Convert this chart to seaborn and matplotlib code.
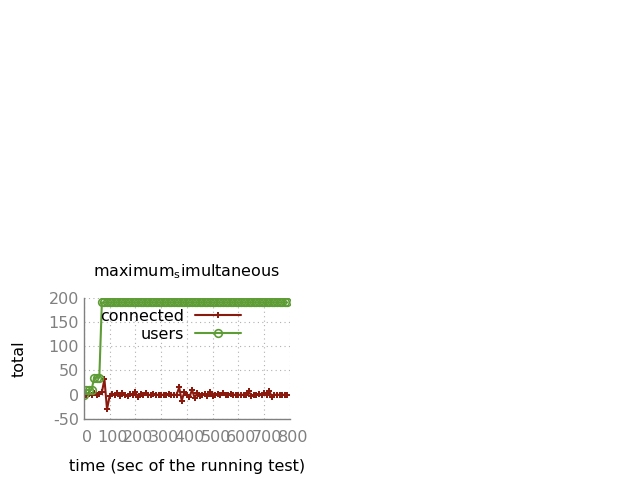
import numpy as np
import pandas as pd
import matplotlib
matplotlib.use("Agg")
import matplotlib.pyplot as plt
import matplotlib.transforms as mtransforms
import seaborn as sns

time = list(range(0, 800, 10))
connected = [0, 0, 2, 0, 3, 0, 2, 5, 32, -30,
             -3, 2, 0, 4, -2, 3, 0, -3, 2, 0,
             5, -4, 2, 0, 3, 0, 0, 2, 0, 0,
             0, 0, 0, 2, 0, 0, 0, 15, -12, 5,
             0, -5, 10, -6, 3, -3, 0, 2, -2, 5,
             -3, 0, 2, 0, 3, 0, 0, 2, 0, 0,
             0, 0, 0, 0, 8, -3, 0, 0, 2, 0,
             3, 0, 8, -5, 0, 0, 0, 0, 0, 0]
users = [0, 10, 10, 10, 35, 35, 35] + [190] * 73
x_ticks = [0, 100, 200, 300, 400, 500, 600, 700, 800]
y_ticks = [-50, 0, 50, 100, 150, 200]

df_c = pd.DataFrame({"time": time, "total": connected})
df_u = pd.DataFrame({"time": time, "total": users})

sns.set_theme(style="white")
plt.rcParams['font.family'] = ['DejaVu Sans']
plt.rcParams['text.color'] = 'black'
plt.rcParams['axes.labelcolor'] = 'black'

fig = plt.figure(figsize=(6.4, 4.8), dpi=100)
ax = fig.add_axes([0.131, 0.127, 0.322, 0.253])

red = "#8b1a0e"
green = "#5e9c36"
sns.lineplot(data=df_c, x="time", y="total", ax=ax, color=red, marker="P",
             markersize=5, markeredgewidth=0, linewidth=1.5, label="connected")
sns.lineplot(data=df_u, x="time", y="total", ax=ax, color=green, marker="o",
             markersize=5.5, markerfacecolor="none", markeredgecolor=green,
             markeredgewidth=1.2, linewidth=1.5, label="users")

ax.set_xlim(0, 800)
ax.set_ylim(-50, 200)
ax.set_xticks(x_ticks)
ax.set_yticks(y_ticks)
ax.set_xticklabels([str(v) for v in x_ticks])
ax.set_yticklabels([str(v) for v in y_ticks])
ax.tick_params(axis="both", direction="in", length=4, colors="#808080",
               labelcolor="#808080", labelsize=11.5, width=1)
ax.tick_params(axis="x", pad=8)
offset = mtransforms.ScaledTranslation(3 / 100, 0, fig.dpi_scale_trans)
for lbl in ax.get_xticklabels():
    lbl.set_transform(lbl.get_transform() + offset)
ax.grid(True, linestyle=(0, (1, 3)), color="#b0b0b0", linewidth=0.8)
for s in ["top", "right"]:
    ax.spines[s].set_visible(False)
for s in ["left", "bottom"]:
    ax.spines[s].set_color("#808080")
    ax.spines[s].set_linewidth(1)

ax.set_title(r"maximum$_\mathregular{s}$imultaneous", fontsize=11.5, pad=15,
             color="black")
ax.set_xlabel("time (sec of the running test)", fontsize=11.5, labelpad=10)
ax.set_ylabel("total", fontsize=11.5, labelpad=16)

leg = ax.legend(loc="upper right", bbox_to_anchor=(0.765, 0.91), frameon=False,
                markerfirst=False, fontsize=11.5, handlelength=2.9,
                borderaxespad=0.0, borderpad=0.0, labelspacing=0.2,
                handletextpad=0.7)
for t in leg.get_texts():
    t.set_color("black")

fig.savefig("out.png", dpi=100)
